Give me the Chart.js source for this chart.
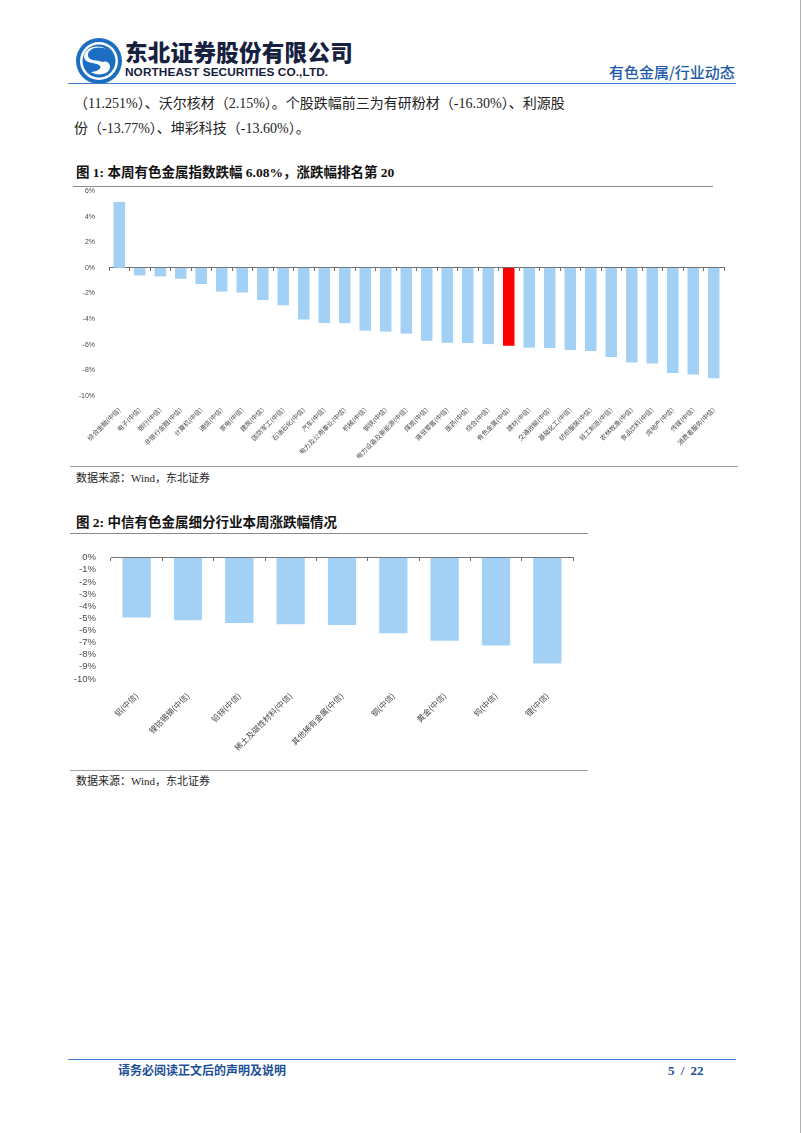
<!DOCTYPE html>
<html><head><meta charset="utf-8">
<script src="https://cdn.jsdelivr.net/npm/chart.js@4.4.1/dist/chart.umd.min.js"></script>
<style>
html,body{margin:0;padding:0;background:#fff;}
body{width:802px;height:1133px;position:relative;overflow:hidden;font-family:"Liberation Serif","Noto Sans CJK SC",serif;}
.abs{position:absolute;white-space:nowrap;line-height:1;}
.hl{position:absolute;height:0;}
canvas{position:absolute;}
</style></head><body>
<script>
const cats1 = ["综合金融(中信)","电子(中信)","银行(中信)","非银行金融(中信)","计算机(中信)","通信(中信)","家电(中信)","建筑(中信)","国防军工(中信)","石油石化(中信)","汽车(中信)","电力及公用事业(中信)","机械(中信)","钢铁(中信)","电力设备及新能源(中信)","煤炭(中信)","商贸零售(中信)","医药(中信)","综合(中信)","有色金属(中信)","建材(中信)","交通运输(中信)","基础化工(中信)","纺织服装(中信)","轻工制造(中信)","农林牧渔(中信)","食品饮料(中信)","房地产(中信)","传媒(中信)","消费者服务(中信)"];
const vals1 = [5.15,-0.59,-0.67,-0.85,-1.26,-1.85,-1.92,-2.51,-2.92,-4.03,-4.31,-4.31,-4.90,-4.97,-5.13,-5.69,-5.85,-5.87,-5.95,-6.08,-6.23,-6.26,-6.41,-6.49,-6.95,-7.38,-7.46,-8.21,-8.33,-8.62];
const highlight1 = "有色金属(中信)";
const ticks1 = {min:-10, max:6, step:2};

const cats2 = ["铝(中信)","镍钴锡锑(中信)","铅锌(中信)","稀土及磁性材料(中信)","其他稀有金属(中信)","铜(中信)","黄金(中信)","钨(中信)","锂(中信)"];
const vals2 = [-4.92,-5.16,-5.38,-5.49,-5.54,-6.22,-6.84,-7.24,-8.73];
const ticks2 = {min:-10, max:0, step:1};
</script>

<!-- page right edge -->
<div style="position:absolute;left:800px;top:0;width:1px;height:1133px;background:#b0b0b0"></div>

<!-- header -->
<svg class="abs" style="left:74px;top:36px" width="50" height="50" viewBox="0 0 50 50">
  <circle cx="25" cy="25" r="23" fill="#1b6ec2"/>
  <circle cx="25" cy="25" r="19" fill="#fff"/>
  <circle cx="25" cy="25" r="16.5" fill="#1b6ec2"/>
  <path d="M33 14 C26 9,13 12,14 20 C15 26,24 23,30 27 C35 31,28 38,18 36 C24 35,29 32,25 29 C20 26,11 28,10 21 C10 11,26 7,33 14 Z" fill="#fff"/>
  <path d="M17 36 C24 41,37 38,36 30 C35 25,30 25,28 26 C31 28,33 31,28 34 C25 36,20 36,17 36 Z" fill="#fff"/>
</svg>
<div class="abs" style="left:125px;top:40px;font-family:'Noto Sans CJK SC';font-weight:900;font-size:22.5px;color:#16213f;letter-spacing:0.3px">东北证券股份有限公司</div>
<div class="abs" style="left:125px;top:67px;font-family:'Liberation Sans';font-weight:bold;font-size:11.8px;color:#16213f;letter-spacing:0.1px">NORTHEAST SECURITIES CO.,LTD.</div>
<div class="abs" style="left:609px;top:64px;font-family:'Noto Sans CJK SC';font-weight:500;font-size:15px;color:#1d5aa8">有色金属/行业动态</div>
<div class="hl" style="left:68px;top:83px;width:668px;border-top:1.5px solid #3d7cc9"></div>

<!-- paragraph -->
<div class="abs" style="left:74px;top:97px;font-size:14px;color:#222;letter-spacing:0px">（11.251%）、沃尔核材（2.15%）。个股跌幅前三为有研粉材（-16.30%）、利源股</div>
<div class="abs" style="left:74px;top:122px;font-size:14px;color:#222;letter-spacing:0px">份（-13.77%）、坤彩科技（-13.60%）。</div>

<!-- chart 1 -->
<div class="abs" style="left:76px;top:166px;font-size:13.5px;font-weight:bold;color:#111">图 1: 本周有色金属指数跌幅 6.08%，涨跌幅排名第 20</div>
<div class="hl" style="left:73px;top:186px;width:640px;border-top:1.5px solid #8a8a8a"></div>
<canvas id="c1" width="664" height="286" style="left:66px;top:180px"></canvas>
<div class="hl" style="left:70px;top:466px;width:668px;border-top:1.5px solid #a0a0a0"></div>
<div class="abs" style="left:76px;top:473px;font-size:11px;color:#222">数据来源：Wind，东北证券</div>

<!-- chart 2 -->
<div class="abs" style="left:76px;top:516px;font-size:13.5px;font-weight:bold;color:#111">图 2: 中信有色金属细分行业本周涨跌幅情况</div>
<div class="hl" style="left:70px;top:533px;width:518px;border-top:1.5px solid #8a8a8a"></div>
<canvas id="c2" width="520" height="221" style="left:66px;top:545px"></canvas>
<div class="hl" style="left:70px;top:770px;width:518px;border-top:1.5px solid #a0a0a0"></div>
<div class="abs" style="left:76px;top:776px;font-size:11px;color:#222">数据来源：Wind，东北证券</div>

<!-- footer -->
<div class="hl" style="left:68px;top:1059px;width:668px;border-top:1.5px solid #3d7cc9"></div>
<div class="abs" style="left:118px;top:1064px;font-family:'Noto Sans CJK SC';font-weight:bold;font-size:12px;color:#1d4f99">请务必阅读正文后的声明及说明</div>
<div class="abs" style="left:668px;top:1064px;font-weight:bold;font-size:13px;color:#1d4f99;word-spacing:3px">5 / 22</div>

<script>
function makeChart(id, cats, vals, tk, o) {
  const colors = cats.map(c => c === o.highlight ? '#ff0000' : '#a3d0f5');
  new Chart(document.getElementById(id), {
    type: 'bar',
    data: { labels: cats, datasets: [{ data: vals, backgroundColor: colors, borderWidth: 0,
      barPercentage: o.barPct, categoryPercentage: 1 }] },
    options: {
      responsive: false, animation: false, devicePixelRatio: 1,
      layout: { padding: { left: 0, right: o.padRight, top: o.padTop, bottom: 0 } },
      plugins: { legend: { display: false }, tooltip: { enabled: false } },
      scales: {
        x: {
          axis: 'x', type: 'category', position: 'bottom', offset: true,
          grid: { display: false }, border: { display: false },
          ticks: { autoSkip: false, minRotation: 45, maxRotation: 45, padding: o.lblPad,
            color: '#4a4a4a', font: { family: "'Noto Sans CJK SC'", size: o.xFont } },
          afterFit: s => { s.height = o.xHeight; s.paddingLeft = 0; s.paddingRight = 0; }
        },
        xz: {
          axis: 'x', type: 'category', position: { y: 0 }, offset: true,
          grid: { display: true, offset: true, drawOnChartArea: false, drawTicks: true, tickLength: 3, color: '#707070', lineWidth: 1 },
          border: { display: true, color: '#707070', width: 1 },
          ticks: { display: false },
          afterFit: s => { s.paddingLeft = 0; s.paddingRight = 0; s.paddingTop = 0; s.paddingBottom = 0; }
        },
        y: {
          type: 'linear', min: tk.min, max: tk.max,
          grid: { display: false }, border: { display: false },
          ticks: { stepSize: tk.step, autoSkip: false, padding: o.yPad, color: '#4a4a4a',
            font: { family: "'Liberation Sans'", size: o.yFont },
            callback: v => v + '%' },
          afterFit: s => { s.width = o.yWidth; }
        }
      }
    }
  });
}
makeChart('c1', cats1, vals1, ticks1, { highlight: highlight1, barPct: 0.56, padRight: 6, padTop: 11,
  xHeight: 70, xFont: 6.5, lblPad: 2, yPad: 6, yFont: 7, yWidth: 43 });
makeChart('c2', cats2, vals2, ticks2, { highlight: null, barPct: 0.55, padRight: 13, padTop: 11,
  xHeight: 87, xFont: 8, lblPad: 4, yPad: 7, yFont: 9.5, yWidth: 45 });
</script>
</body></html>
